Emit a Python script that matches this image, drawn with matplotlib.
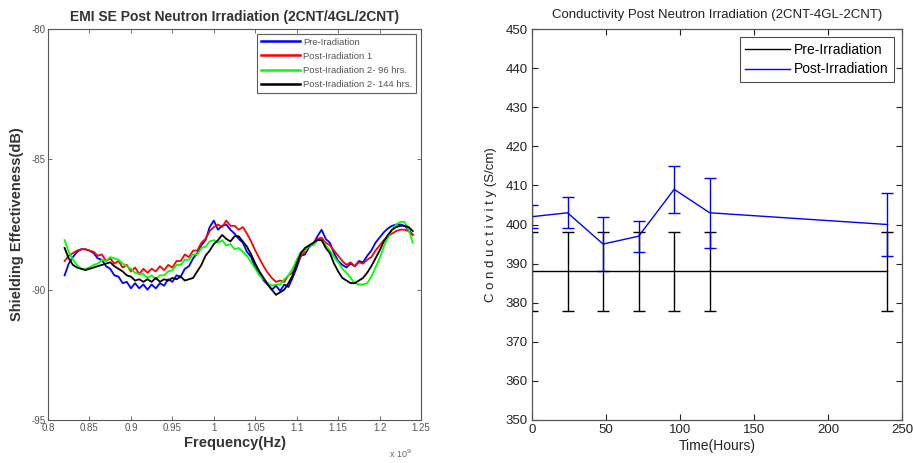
import matplotlib
matplotlib.use("Agg")
import matplotlib.pyplot as plt
from matplotlib.ticker import FuncFormatter, FixedLocator
import numpy as np

# ---------------- Data: left panel (EMI SE) ----------------
freq_ghz = [0.820, 0.825, 0.830, 0.835, 0.840, 0.845, 0.850, 0.855, 0.860, 0.865,
            0.870, 0.875, 0.880, 0.885, 0.890, 0.895, 0.900, 0.905, 0.910, 0.915,
            0.920, 0.925, 0.930, 0.935, 0.940, 0.945, 0.950, 0.955, 0.960, 0.965,
            0.970, 0.975, 0.980, 0.985, 0.990, 0.995, 1.000, 1.005, 1.010, 1.015,
            1.020, 1.025, 1.030, 1.035, 1.040, 1.045, 1.050, 1.055, 1.060, 1.065,
            1.070, 1.075, 1.080, 1.085, 1.090, 1.095, 1.100, 1.105, 1.110, 1.115,
            1.120, 1.125, 1.130, 1.135, 1.140, 1.145, 1.150, 1.155, 1.160, 1.165,
            1.170, 1.175, 1.180, 1.185, 1.190, 1.195, 1.200, 1.205, 1.210, 1.215,
            1.220, 1.225, 1.230, 1.235, 1.240]

se_pre = [-89.45, -89.0, -88.75, -88.55, -88.45, -88.45, -88.5, -88.6, -88.8, -88.85,
          -89.1, -89.2, -89.45, -89.5, -89.75, -89.7, -89.95, -89.75, -89.95, -89.8,
          -90.0, -89.8, -89.95, -89.75, -89.85, -89.6, -89.7, -89.45, -89.5, -89.2,
          -89.1, -88.8, -88.6, -88.3, -88.1, -87.6, -87.35, -87.7, -87.55, -87.5,
          -87.7, -87.85, -88.05, -88.2, -88.55, -88.75, -89.15, -89.35, -89.65, -89.8,
          -90.0, -89.85, -90.05, -89.8, -89.9, -89.55, -89.15, -88.7, -88.65, -88.35,
          -88.25, -87.95, -87.7, -88.05, -88.2, -88.6, -88.9, -89.05, -89.15, -89.0,
          -89.1, -88.9, -88.95, -88.7, -88.5, -88.2, -88.0, -87.8, -87.65, -87.55,
          -87.5, -87.5, -87.55, -87.7, -87.9]

se_post1 = [-88.9, -88.7, -88.6, -88.5, -88.45, -88.45, -88.5, -88.55, -88.7, -88.65,
            -88.9, -88.8, -89.0, -88.9, -89.15, -89.05, -89.3, -89.15, -89.4, -89.2,
            -89.35, -89.2, -89.3, -89.1, -89.25, -89.05, -89.15, -88.9, -88.9, -88.65,
            -88.75, -88.5, -88.5, -88.2, -88.05, -87.75, -87.6, -87.5, -87.6, -87.35,
            -87.55, -87.55, -87.7, -87.6, -87.85, -88.15, -88.5, -88.8, -89.1, -89.35,
            -89.55, -89.7, -89.65, -89.7, -89.45, -89.35, -89.0, -88.7, -88.55, -88.3,
            -88.25, -88.05, -88.0, -88.2, -88.3, -88.5, -88.7, -88.9, -89.05, -88.95,
            -89.1, -88.95, -89.0, -88.85, -88.75, -88.5, -88.3, -88.1, -87.95, -87.85,
            -87.75, -87.7, -87.7, -87.75, -87.9]

se_post2_96 = [-88.1, -88.55, -88.85, -89.05, -89.2, -89.2, -89.15, -89.05, -89.0, -88.85,
               -88.9, -88.75, -88.8, -88.85, -89.0, -89.1, -89.2, -89.35, -89.4, -89.4,
               -89.55, -89.45, -89.6, -89.45, -89.45, -89.3, -89.25, -89.05, -89.05, -88.85,
               -88.85, -88.65, -88.65, -88.4, -88.35, -88.15, -88.1, -88.2, -88.1, -88.3,
               -88.25, -88.45, -88.4, -88.55, -88.7, -88.95, -89.2, -89.45, -89.6, -89.75,
               -89.85, -89.8, -89.8, -89.6, -89.45, -89.2, -88.85, -88.55, -88.5, -88.3,
               -88.3, -88.1, -88.1, -88.3, -88.5, -88.75, -88.95, -89.2, -89.35, -89.55,
               -89.75, -89.8, -89.8, -89.75, -89.5, -89.15, -88.8, -88.35, -88.0, -87.7,
               -87.5, -87.4, -87.4, -87.7, -88.2]

se_post2_144 = [-88.4, -88.8, -89.05, -89.15, -89.2, -89.25, -89.2, -89.15, -89.1, -89.05,
                -89.0, -88.95, -89.1, -89.2, -89.3, -89.45, -89.5, -89.65, -89.6, -89.7,
                -89.6, -89.7, -89.55, -89.7, -89.6, -89.65, -89.55, -89.6, -89.5, -89.65,
                -89.6, -89.55, -89.3, -89.05, -88.7, -88.5, -88.25, -88.1, -87.9, -88.05,
                -88.15, -87.95, -87.95, -88.15, -88.35, -88.65, -89.0, -89.3, -89.55, -89.8,
                -90.0, -90.2, -90.1, -90.0, -89.75, -89.45, -89.0, -88.6, -88.4, -88.3,
                -88.2, -88.1, -88.1, -88.4, -88.6, -89.0, -89.3, -89.55, -89.65, -89.75,
                -89.75, -89.65, -89.55, -89.35, -89.1, -88.8, -88.5, -88.15, -87.9, -87.7,
                -87.6, -87.55, -87.55, -87.6, -87.75]

se_labels = ["Pre-Iradiation", "Post-Iradiation 1",
             "Post-Iradiation 2- 96 hrs.", "Post-Iradiation 2- 144 hrs."]
se_colors = ["#0000ff", "#ff0000", "#00ff00", "#000000"]

freq_ticks = [0.8, 0.85, 0.9, 0.95, 1.0, 1.05, 1.1, 1.15, 1.2, 1.25]
se_ticks = [-95, -90, -85, -80]

# ---------------- Data: right panel (Conductivity) ----------------
hours = [0, 24, 48, 72, 96, 120, 240]
cond_pre = [388, 388, 388, 388, 388, 388, 388]
cond_pre_err = [10, 10, 10, 10, 10, 10, 10]
cond_post = [402, 403, 395, 397, 409, 403, 400]
cond_post_err = [3, 4, 7, 4, 6, 9, 8]

hour_ticks = [0, 50, 100, 150, 200, 250]
cond_ticks = [350, 360, 370, 380, 390, 400, 410, 420, 430, 440, 450]

# ---------------- Figure ----------------
fig = plt.figure(figsize=(9.13, 4.63), dpi=100)
fig.patch.set_facecolor("white")

arial = ["Liberation Sans", "DejaVu Sans"]

# Left panel
axL = fig.add_axes([0.0526, 0.0929, 0.4086, 0.8444])
f_hz = np.array(freq_ghz) * 1e9
series = [se_pre, se_post1, se_post2_96, se_post2_144]
for vals, lab, col in zip(series, se_labels, se_colors):
    axL.plot(f_hz, vals, color=col, lw=1.3, label=lab)
axL.set_xlim(0.8e9, 1.25e9)
axL.set_ylim(-95, -80)
axL.xaxis.set_major_locator(FixedLocator([t * 1e9 for t in freq_ticks]))
axL.xaxis.set_major_formatter(FuncFormatter(lambda v, p: "%g" % round(v / 1e9, 2)))
axL.yaxis.set_major_locator(FixedLocator(se_ticks))
axL.yaxis.set_major_formatter(FuncFormatter(lambda v, p: "%d" % v))
axL.tick_params(direction="in", top=True, right=True, length=3, width=0.6,
                labelsize=7, labelcolor="#555555", colors="#555555", pad=2)
for lbl in axL.get_xticklabels() + axL.get_yticklabels():
    lbl.set_family(arial)
for s in axL.spines.values():
    s.set_color("#555555")
    s.set_linewidth(0.8)
axL.set_title("EMI SE Post Neutron Irradiation (2CNT/4GL/2CNT)", fontsize=10,
              fontweight="bold", family=arial, color="#333333", pad=6)
axL.set_xlabel("Frequency(Hz)", fontsize=10.5, fontweight="bold", family=arial,
               color="#333333", labelpad=2)
axL.set_ylabel("Shielding Effectiveness(dB)", fontsize=10.5, fontweight="bold",
               family=arial, color="#333333", labelpad=5)
axL.text(0.975, -0.07, r"x 10$^{9}$", transform=axL.transAxes, ha="right", va="top",
         fontsize=6.5, color="#666666", family=arial)
legL = axL.legend(loc="upper right", frameon=True, fancybox=False,
                  borderpad=0.4, handlelength=4.2, handletextpad=0.3,
                  labelspacing=0.55, borderaxespad=0.5,
                  prop={"family": arial, "size": 6.8})
legL.get_frame().set_edgecolor("#333333")
legL.get_frame().set_linewidth(0.8)
for t in legL.get_texts():
    t.set_color("#555555")
for h in legL.get_lines():
    h.set_linewidth(1.8)

# Right panel
axR = fig.add_axes([0.5827, 0.0929, 0.4055, 0.8444])
eb_pre = axR.errorbar(hours, cond_pre, yerr=cond_pre_err, color="black", lw=1.0,
                      elinewidth=1.0, capsize=4, capthick=1.0)
eb_post = axR.errorbar(hours, cond_post, yerr=cond_post_err, color="#0000ff", lw=1.0,
                       elinewidth=1.0, capsize=4, capthick=1.0)
axR.set_xlim(0, 250)
axR.set_ylim(350, 450)
axR.xaxis.set_major_locator(FixedLocator(hour_ticks))
axR.yaxis.set_major_locator(FixedLocator(cond_ticks))
axR.tick_params(direction="in", top=True, right=True, length=4, width=0.8,
                labelsize=9.5, colors="#222222", pad=3)
for lbl in axR.get_xticklabels() + axR.get_yticklabels():
    lbl.set_family(arial)
for s in axR.spines.values():
    s.set_color("#555555")
    s.set_linewidth(0.9)
axR.set_title("Conductivity Post Neutron Irradiation (2CNT-4GL-2CNT)", fontsize=9.5,
              family=arial, color="#222222", pad=8)
axR.set_xlabel("Time(Hours)", fontsize=10, family=arial, color="#222222", labelpad=2)
axR.set_ylabel("C o n d u c t i v i t y (S/cm)", fontsize=9.5, family=arial,
               color="#222222", labelpad=6)
legR = axR.legend([eb_pre[0], eb_post[0]], ["Pre-Irradiation", "Post-Irradiation"],
                  loc="upper right", frameon=True, fancybox=False,
                  borderpad=0.4, handlelength=3.2, handletextpad=0.3,
                  labelspacing=0.4, borderaxespad=0.6,
                  prop={"family": arial, "size": 10})
legR.get_frame().set_edgecolor("#222222")
legR.get_frame().set_linewidth(0.8)

fig.savefig("out.png", dpi=100, facecolor="white")
